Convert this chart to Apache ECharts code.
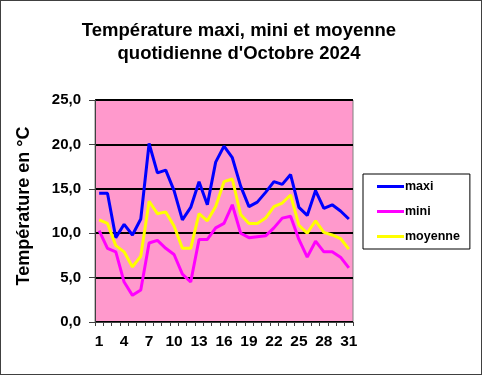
<!DOCTYPE html>
<html><head><meta charset="utf-8">
<script src="https://cdn.jsdelivr.net/npm/echarts@6/dist/echarts.min.js"></script>
<style>
html,body{margin:0;padding:0;background:#fff;}
#c{position:absolute;left:0;top:0;width:480px;height:373px;border:1px solid #404040;}
</style></head><body>
<div id="c"></div>
<script>
const days = ['1','2','3','4','5','6','7','8','9','10','11','12','13','14','15','16','17','18','19','20','21','22','23','24','25','26','27','28','29','30','31'];
const maxi = [14.5,14.5,9.5,11.0,9.8,11.6,20.1,16.8,17.1,14.8,11.5,12.9,15.8,13.2,18.0,19.8,18.5,15.3,13.0,13.5,14.6,15.8,15.5,16.6,12.9,12.0,14.8,12.8,13.2,12.5,11.6];
const mini = [10.3,8.3,7.9,4.5,3.0,3.6,8.9,9.2,8.3,7.6,5.4,4.5,9.3,9.3,10.6,11.1,13.2,10.0,9.5,9.6,9.7,10.6,11.7,11.9,9.3,7.3,9.1,7.9,7.9,7.3,6.1];
const moyenne = [11.5,11.1,8.6,7.9,6.2,7.4,13.6,12.2,12.4,10.8,8.3,8.3,12.2,11.4,13.0,15.8,16.1,12.1,11.1,11.1,11.7,13.0,13.4,14.3,10.9,10.0,11.4,10.1,9.8,9.4,8.2];
const seriesNames = ['maxi','mini','moyenne'];
const yTicks = [0,5,10,15,20,25];

const chart = echarts.init(document.getElementById('c'), null, {renderer:'canvas'});
const font = 'Liberation Sans, Arial, sans-serif';
const colors = ['#0000FF','#FF00FF','#FFFF00'];
const datas = [maxi, mini, moyenne];
chart.setOption({
  animation:false,
  textStyle:{fontFamily:font},
  title:{
    text:'Température maxi, mini et moyenne\nquotidienne d\'Octobre 2024',
    left:233, top:13, textAlign:'center',
    textStyle:{fontFamily:font,fontSize:18.5,fontWeight:'bold',color:'#000',lineHeight:23}
  },
  legend:{
    orient:'vertical', left:362, top:173,
    padding:[6,10,6,14], itemGap:12,
    borderColor:'#000', borderWidth:1,
    icon:'rect', itemWidth:27, itemHeight:3,
    textStyle:{fontFamily:font,fontSize:12.5,fontWeight:'bold',color:'#000',padding:[0,0,0,-4]},
    data:seriesNames
  },
  grid:{left:94, top:99, width:258, height:222, show:true, backgroundColor:'#FF99CC', borderColor:'#808080', borderWidth:1, containLabel:false},
  xAxis:{
    type:'category', data:days, boundaryGap:true,
    axisLine:{lineStyle:{color:'#404040',width:1}},
    axisTick:{show:true, interval:0, length:4, lineStyle:{color:'#404040'}},
    axisLabel:{interval:2, margin:12, fontFamily:font, fontSize:15.5, fontWeight:'bold', color:'#000'}
  },
  yAxis:{
    type:'value', min:yTicks[0], max:yTicks[yTicks.length-1], interval:5,
    name:'Température en °C', nameLocation:'middle', nameGap:62, nameRotate:90,
    nameTextStyle:{fontFamily:font,fontSize:18,fontWeight:'bold',color:'#000',padding:[0,0,0,10]},
    axisLine:{show:true,lineStyle:{color:'#404040',width:1}},
    axisTick:{show:true,length:6,lineStyle:{color:'#404040'}},
    axisLabel:{margin:14, fontFamily:font, fontSize:15, fontWeight:'bold', color:'#000',
      formatter:v=>v.toFixed(1).replace('.',',')},
    splitLine:{show:true,lineStyle:{color:'#000',width:2}}
  },
  series: seriesNames.map((n,i)=>({
    name:n, type:'line', data:datas[i], showSymbol:false, symbol:'none',
    lineStyle:{color:colors[i],width:3}, itemStyle:{color:colors[i]}
  }))
});
</script></body></html>
